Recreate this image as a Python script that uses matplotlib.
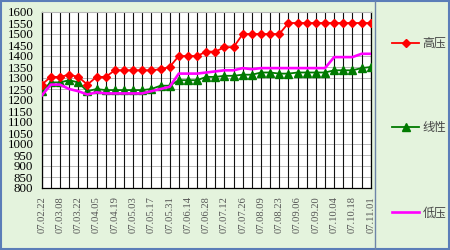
import matplotlib.pyplot as plt
import matplotlib.patches as mpatches
from matplotlib.lines import Line2D
import numpy as np

plt.rcParams['font.family'] = ['Liberation Serif', 'Noto Sans CJK SC', 'DejaVu Sans']

# fechas semanales (etiqueta cada dos semanas)
dates = ["07.02.22", "07.03.01", "07.03.08", "07.03.15", "07.03.22", "07.03.29",
         "07.04.05", "07.04.12", "07.04.19", "07.04.26", "07.05.03", "07.05.10",
         "07.05.17", "07.05.24", "07.05.31", "07.06.07", "07.06.14", "07.06.21",
         "07.06.28", "07.07.05", "07.07.12", "07.07.19", "07.07.26", "07.08.02",
         "07.08.09", "07.08.16", "07.08.23", "07.08.30", "07.09.06", "07.09.13",
         "07.09.20", "07.09.27", "07.10.04", "07.10.11", "07.10.18", "07.10.25",
         "07.11.01"]

high_pressure = [1270, 1305, 1305, 1315, 1305, 1270, 1305, 1305, 1335, 1335,
                 1335, 1335, 1335, 1340, 1350, 1400, 1400, 1400, 1420, 1420,
                 1440, 1440, 1500, 1500, 1500, 1500, 1500, 1550, 1550, 1550,
                 1550, 1550, 1550, 1550, 1550, 1550, 1550]

linear = [1240, 1280, 1280, 1290, 1280, 1240, 1250, 1245, 1245, 1245,
          1245, 1245, 1250, 1265, 1265, 1290, 1290, 1290, 1305, 1305,
          1310, 1310, 1315, 1315, 1325, 1325, 1320, 1320, 1325, 1325,
          1325, 1325, 1335, 1335, 1335, 1345, 1350]

low_pressure = [1220, 1270, 1270, 1250, 1240, 1225, 1235, 1230, 1230, 1230,
                1230, 1230, 1240, 1250, 1260, 1320, 1320, 1320, 1325, 1330,
                1335, 1335, 1345, 1340, 1345, 1345, 1345, 1345, 1345, 1345,
                1345, 1345, 1395, 1395, 1395, 1410, 1410]

labels = ["高压", "线性", "低压"]

bg = "#e4f3dd"
W, H = 450, 250

fig = plt.figure(figsize=(4.5, 2.5), dpi=100, facecolor=bg)
ax = fig.add_axes([41.7 / W, 1 - 188 / H, (370.7 - 41.7) / W, (188 - 12) / H])
ax.set_facecolor("white")

x = np.arange(len(dates))
l1, = ax.plot(x, high_pressure, color="#ff0000", lw=1.3, marker="D", ms=4.3,
              mfc="#ff0000", mec="#ff0000", zorder=4)
l2, = ax.plot(x, linear, color="#007a00", lw=1.3, marker="^", ms=5.2,
              mfc="#007a00", mec="#007a00", zorder=3)
l3, = ax.plot(x, low_pressure, color="#ff00ff", lw=1.9, zorder=3.5)

ax.set_xlim(0, len(dates) - 1)
ax.set_ylim(800, 1600)
ax.set_yticks(np.arange(800, 1601, 50))
ax.tick_params(axis="y", labelsize=9.3, length=0, pad=6)
ax.set_xticks(x[::2])
ax.set_xticklabels(dates[::2], rotation=90, fontsize=7.6, color="#555555")
ax.tick_params(axis="x", length=0, pad=6)

# rejilla
for xi in x:
    ax.axvline(xi, color="#111111", lw=0.8, zorder=1)
for yv in np.arange(850, 1600, 50):
    ax.axhline(yv, color="#b8b8b8", lw=0.7, zorder=0.5)
for side in ["left", "bottom", "right"]:
    ax.spines[side].set_color("black")
    ax.spines[side].set_linewidth(0.9)
ax.spines["top"].set_color("#b8b8b8")

# leyenda
handles = [Line2D([], [], color=l.get_color(), lw=l.get_linewidth(),
                  marker=l.get_marker(), ms=l.get_markersize())
           for l in (l1, l2, l3)]
leg = fig.legend(handles, labels, loc="center left",
                 bbox_to_anchor=(386 / W, 1 - 128 / H), frameon=False,
                 labelspacing=6.0, handlelength=2.3, handletextpad=0.25,
                 borderpad=0, prop={"family": ["Noto Sans CJK SC"], "size": 8.6})
for t in leg.get_texts():
    t.set_color("#444444")

# marco y separador
fig.add_artist(mpatches.Rectangle((0.002, 0.004), 0.996, 0.992, transform=fig.transFigure,
                                  fill=False, edgecolor="#5b7db8", lw=1.5))
fig.add_artist(Line2D([375 / W, 375 / W], [0.004, 0.996], transform=fig.transFigure,
                      color="#6d85a8", lw=1.0))

fig.savefig("out.png", dpi=100, facecolor=bg)
